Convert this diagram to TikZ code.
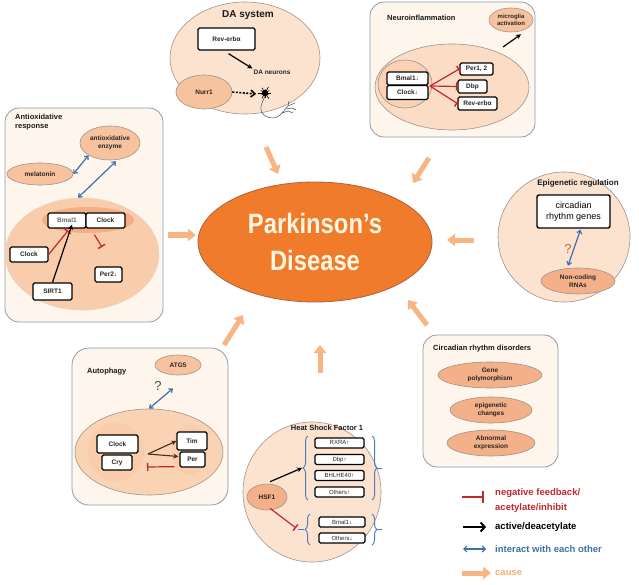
\documentclass[tikz,border=0pt]{standalone}
\usepackage{fontspec}
\setmainfont{Liberation Sans}
\usepackage{graphicx}
\usetikzlibrary{arrows.meta,shapes.geometric,calc,decorations.pathreplacing}
\definecolor{pfill}{HTML}{FEF6EC}
\definecolor{pborder}{HTML}{8E9BAE}
\definecolor{palepeach}{HTML}{FCE3CF}
\definecolor{ofill}{HTML}{F7C29E}
\definecolor{odark}{HTML}{F4B088}
\definecolor{oborder}{HTML}{9E948E}
\definecolor{bigfill}{HTML}{F9CCAB}
\definecolor{bandfill}{HTML}{F2A57B}
\definecolor{pdfill}{HTML}{F07B2B}
\definecolor{pdborder}{HTML}{B0603A}
\definecolor{pdtext}{HTML}{FFF6E2}
\definecolor{causec}{HTML}{F8B483}
\definecolor{redc}{HTML}{C0282D}
\definecolor{bluec}{HTML}{3F6FA8}
\definecolor{bracec}{HTML}{4A7EBB}
\definecolor{qorange}{HTML}{C8662E}
\definecolor{brownc}{HTML}{4A2A1A}
\newcommand\mylbl{\fontsize{6.5}{7.5}\selectfont\bfseries}
\newcommand\myttl{\fontsize{7.5}{9}\selectfont\bfseries}
\newcommand\mylgd{\fontsize{9.5}{15}\selectfont\bfseries}
\begin{document}
\begin{tikzpicture}[x=1pt,y=-1pt,
  panel/.style={draw=pborder, fill=pfill, rounded corners=14pt, line width=0.8pt, inner sep=0pt},
  gbox/.style={draw=black, fill=white, rounded corners=1.5pt, line width=1.3pt, inner sep=0pt, font=\mylbl, text=black!85},
  oval/.style={ellipse, draw=oborder, line width=0.6pt, fill=ofill, inner sep=0pt, align=center, font=\mylbl, text=black!85},
  bigell/.style={ellipse, draw=oborder, line width=0.6pt, inner sep=0pt},
  ttl/.style={font=\myttl, text=black!90, inner sep=0pt},
  cause/.style={line width=5pt, draw=causec, -{Triangle[width=12pt,length=8pt]}},
  inh/.style={draw=redc, line width=1.2pt, -{Bar[width=8pt,line width=1.4pt]}},
  act/.style={draw=black, line width=1.2pt, -{Stealth[length=5pt,width=5pt]}},
  inter/.style={draw=bluec, line width=1.2pt, {Straight Barb[length=3pt,width=5pt]}-{Straight Barb[length=3pt,width=5pt]}},
  brc/.style={draw=bracec, line width=1pt, decorate, decoration={brace, amplitude=5pt}},
]
\useasboundingbox (0,0) rectangle (639,585);
\fill[white] (0,0) rectangle (639,585);

% ---------------- Center ----------------
\node[ellipse, draw=pdborder, line width=0.8pt, fill=pdfill, minimum width=234, minimum height=120, inner sep=0pt, align=center, text=pdtext,
  font=\fontsize{28}{37}\selectfont\bfseries] (pd) at (315,242) {\scalebox{0.85}[1]{Parkinson's}\\\scalebox{0.85}[1]{Disease}};

% ---------------- Antioxidative response ----------------
\node[panel, minimum width=158, minimum height=214] (pA) at (84,215) {};
\node[ttl, anchor=north west, align=left] (tA) at (15,114) {Antioxidative\\response};
\node[oval, minimum width=60, minimum height=34] (enz) at (110,143) {antioxidative\\enzyme};
\node[oval, minimum width=66, minimum height=22] (mel) at (40,174) {melatonin};
\node[bigell, fill=bigfill, draw=bigfill!90!black!60, minimum width=154, minimum height=112] (bigA) at (82,254) {};
\node[ellipse, fill=bandfill, opacity=0.75, minimum width=92, minimum height=26, inner sep=0pt] (band) at (88,220) {};
\node[gbox, minimum width=38, minimum height=15, text=black!60] (bmal) at (67,220.5) {Bmal1};
\node[gbox, minimum width=39, minimum height=15] (clock) at (105.5,220.5) {Clock};
\node[gbox, minimum width=38, minimum height=15] (clockL) at (29,254.5) {Clock};
\node[gbox, minimum width=39, minimum height=17] (sirt) at (52.5,291.5) {SIRT1};
\node[gbox, minimum width=27, minimum height=15] (per2) at (108.5,274.5) {Per2↓};
\draw[inter] (mel.east) -- (enz.south west);
\draw[inter] ($(bigA.north)+(-4,0)$) -- ($(enz.south)+(6,1)$);
\draw[inh] (clockL.east) -- ($(bmal.south)+(1,2)$);
\draw[act] (sirt.north) -- ($(bmal.south)+(5,-4)$);
\coordinate (p2bar) at (102,247);
\draw[inh] ($(clock.south west)+(9,6)$) -- (p2bar);

% ---------------- DA system ----------------
\node[bigell, fill=palepeach, minimum width=150, minimum height=112] (da) at (245,58) {};
\node[ttl, font=\fontsize{10}{12}\selectfont\bfseries] (tDA) at (248,15) {DA system};
\node[gbox, minimum width=57, minimum height=22] (rev) at (226.5,39) {Rev-erbα};
\node[oval, minimum width=56, minimum height=34] (nurr) at (204,92) {Nurr1};
\node[font=\mylbl, text=black!85, inner sep=1pt] (dan) at (272,72) {DA neurons};
\coordinate (neuron) at (265,93);
\draw[act] ($(rev.south)+(2,3)$) -- (dan.north west);
\draw[line width=1.6pt, dash pattern=on 2pt off 1.5pt, -{Straight Barb[length=4pt,width=7pt]}] (nurr.east) -- ($(neuron)+(-9,1)$);
\foreach \a/\l in {0/6,30/4,55/7,90/5,120/6,150/4,180/7,210/5,240/6,275/4,300/7,330/5}
  \draw[line width=0.6pt] (neuron) -- ++(\a:\l);
\fill (neuron) circle (3);
\draw[line width=0.5pt, black!70] (265,96) .. controls (262,103) and (259,108) .. (262,113)
   .. controls (266,118) and (276,121) .. (282,113) -- (288,106) -- (295,103);
\draw[line width=0.5pt, black!70] (282,113) -- (288,111) -- (293,113);
\draw[line width=0.5pt, black!70] (288,106) -- (289,101);
\draw[line width=0.5pt, black!70] (286,109) -- (292,108) -- (296,110);

% ---------------- Neuroinflammation ----------------
\node[panel, minimum width=165, minimum height=135] (pN) at (452.5,69.5) {};
\node[ttl, anchor=west] (tN) at (387,18) {Neuroinflammation};
\node[oval, minimum width=44, minimum height=24, font=\fontsize{6}{7}\selectfont\bfseries] (mic) at (511,20) {microglia\\activation};
\node[bigell, fill=palepeach!70!bigfill, minimum width=154, minimum height=86] (bigN) at (452,87) {};
\node[bigell, fill=bigfill!80!palepeach, minimum width=54, minimum height=48] (inN) at (405,84) {};
\node[gbox, minimum width=41, minimum height=13] (bm) at (407.5,78.5) {Bmal1↓};
\node[gbox, minimum width=41, minimum height=14] (ck) at (407.5,92.5) {Clock↓};
\node[gbox, minimum width=33, minimum height=12] (per12) at (476.5,69) {Per1, 2};
\node[gbox, minimum width=29, minimum height=13] (dbp) at (472.5,86.5) {Dbp};
\node[gbox, minimum width=39, minimum height=13] (rev2) at (477.5,103.5) {Rev-erbα};
\coordinate (jn) at (430,86);
\draw[inh] (jn) -- (per12.west);
\draw[inh] (jn) -- (dbp.west);
\draw[inh] (jn) -- (rev2.west);
\coordinate (micsrc) at (503,47);
\draw[act] (micsrc) -- ($(mic.south)+(10,2)$);

% ---------------- Epigenetic regulation ----------------
\node[bigell, fill=palepeach, minimum width=132, minimum height=130] (epi) at (564,237) {};
\node[ttl, font=\fontsize{8}{9}\selectfont\bfseries] (tE) at (578,183) {Epigenetic regulation};
\node[draw=black, fill=white, rounded corners=2pt, line width=1.4pt, minimum width=73, minimum height=33, inner sep=0pt,
  align=center, font=\fontsize{9}{10.5}\selectfont] (crg) at (573.5,211.5) {circadian\\rhythm genes};
\node[text=qorange, font=\fontsize{13}{14}\selectfont] (q1) at (568,249) {?};
\node[oval, fill=odark, minimum width=74, minimum height=26] (ncr) at (578,281) {Non-coding\\RNAs};
\draw[inter] ($(ncr.north)+(-10,-2)$) -- ($(crg.south)+(7,1)$);

% ---------------- Circadian rhythm disorders ----------------
\node[panel, minimum width=135, minimum height=132] (pC) at (490.5,401) {};
\node[ttl, anchor=west] (tC) at (433,349) {Circadian rhythm disorders};
\node[oval, fill=odark, minimum width=104, minimum height=26] (gp) at (490,375) {Gene\\polymorphism};
\node[oval, fill=odark, minimum width=82, minimum height=26] (ec) at (491,410) {epigenetic\\changes};
\node[oval, fill=odark, minimum width=88, minimum height=26] (ae) at (491,443) {Abnormal\\expression};

% ---------------- Heat Shock Factor 1 ----------------
\node[bigell, fill=palepeach, minimum width=138, minimum height=140] (hs) at (312,492) {};
\node[ttl] (tH) at (327,428) {Heat Shock Factor 1};
\node[gbox, minimum width=49, minimum height=10, font=\fontsize{6}{7}\selectfont] (rxra) at (339.5,443) {RXRA↑};
\node[gbox, minimum width=49, minimum height=10, font=\fontsize{6}{7}\selectfont] (dbp2) at (339.5,459.5) {Dbp↑};
\node[gbox, minimum width=49, minimum height=10, font=\fontsize{6}{7}\selectfont] (bhl) at (339.5,475.5) {BHLHE40↑};
\node[gbox, minimum width=49, minimum height=10, font=\fontsize{6}{7}\selectfont] (othU) at (339.5,492) {Others↑};
\node[gbox, minimum width=46, minimum height=10, font=\fontsize{6}{7}\selectfont] (bm2) at (342,522) {Bmal1↓};
\node[gbox, minimum width=46, minimum height=10, font=\fontsize{6}{7}\selectfont] (othD) at (342,538) {Others↓};
\draw[brc] (308,500) -- (308,436);
\draw[brc] (372,436) -- (372,500);
\draw[brc] (310,545) -- (310,514);
\draw[brc] (372,514) -- (372,545);
\draw[draw=bracec, line width=1pt] (377,468) -- (382,468);
\draw[draw=bracec, line width=1pt] (377,529.5) -- (382,529.5);
\node[oval, fill=odark, minimum width=40, minimum height=26] (hsf) at (267,497) {HSF1};
\coordinate (ubr) at (302,468);
\coordinate (lbr) at (296,528);
\draw[act] ($(hsf.north)+(3,-2)$) -- (ubr);
\draw[inh] ($(hsf.south)+(3,-2)$) -- (lbr);
\draw[draw=bracec, line width=1pt] (298,529.5) -- (304,529.5);

% ---------------- Autophagy ----------------
\node[panel, rounded corners=17pt, minimum width=156, minimum height=157] (pU) at (150,426.5) {};
\node[ttl, anchor=west] (tU) at (87,372) {Autophagy};
\node[oval, minimum width=46, minimum height=20] (atg) at (178,365) {ATG5};
\node[text=black!70, font=\fontsize{13}{14}\selectfont] (q2) at (158,386) {?};
\node[bigell, fill=bigfill!75!palepeach, minimum width=148, minimum height=86] (bigU) at (149,452) {};
\node[ellipse, fill=bigfill, minimum width=56, minimum height=58, inner sep=0pt] (inL) at (116,452) {};
\node[ellipse, fill=bigfill, minimum width=36, minimum height=50, inner sep=0pt] (inR) at (190,450) {};
\node[gbox, minimum width=41, minimum height=18] (clk) at (117.5,444) {Clock};
\node[gbox, minimum width=30, minimum height=15] (cry) at (117,462.5) {Cry};
\node[gbox, minimum width=30, minimum height=18] (tim) at (192,441) {Tim};
\node[gbox, minimum width=25, minimum height=15] (per) at (192.5,459.5) {Per};
\coordinate (ausrc) at (148,454);
\draw[draw=brownc, line width=1.1pt, -{Stealth[length=5pt,width=5pt]}] (ausrc) -- (tim.west);
\draw[draw=brownc, line width=1.1pt, -{Stealth[length=5pt,width=5pt]}] (ausrc) -- ($(per.west)+(-1,-3)$);
\coordinate (aubar) at (147,467);
\draw[inh] ($(per.south west)+(-5,-1)$) -- (aubar);
\draw[inter] (bigU.north) -- ($(atg.south)+(-5,13)$);

% ---------------- cause arrows ----------------
\coordinate (cDA) at (266,147);
\coordinate (cNI) at (429,158);
\coordinate (cEP) at (474,240);
\coordinate (cAO) at (168,235);
\coordinate (cAU) at (224,345);
\coordinate (cHS) at (320,373);
\coordinate (cCR) at (427,325);
\draw[cause] (cDA) -- (278,174);
\draw[cause] (cNI) -- (413,183);
\draw[cause] (cEP) -- (447,240);
\draw[cause] (cAO) -- (196,235);
\draw[cause] (cAU) -- (243,315);
\draw[cause] (cHS) -- (320,345);
\draw[cause] (cCR) -- (408,300);

% ---------------- legend ----------------
\coordinate (l1a) at (462,497); \coordinate (l1b) at (484,497);
\coordinate (l2a) at (463,527); \coordinate (l2b) at (486,527);
\coordinate (l3a) at (463,549); \coordinate (l3b) at (486,549);
\coordinate (l4a) at (462,573); \coordinate (l4b) at (491,573);
\draw[draw=redc, line width=1.8pt, -{Bar[width=12pt,line width=1.8pt]}] (l1a) -- (l1b);
\draw[draw=black, line width=2pt, -{Straight Barb[length=4pt,width=9pt]}] (l2a) -- (l2b);
\draw[draw=bluec, line width=1.2pt, {Straight Barb[length=3pt,width=6pt]}-{Straight Barb[length=3pt,width=6pt]}] (l3a) -- (l3b);
\draw[cause] (l4a) -- (l4b);
\node[anchor=west, align=left, text=redc, font=\mylgd, inner sep=0pt] (lg1) at (495,500.5) {negative feedback/\\acetylate/inhibit};
\node[anchor=west, text=black, font=\mylgd, inner sep=0pt] (lg2) at (495,527) {active/deacetylate};
\node[anchor=west, text=bluec, font=\mylgd, inner sep=0pt] (lg3) at (495,549) {interact with each other};
\node[anchor=west, text=causec!90!orange, font=\mylgd, inner sep=0pt] (lg4) at (495,573) {cause};
\end{tikzpicture}
\end{document}
